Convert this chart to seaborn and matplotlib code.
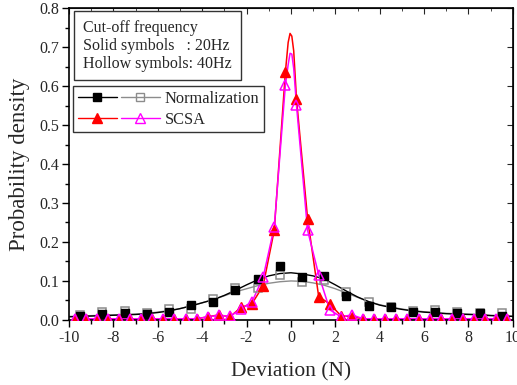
import numpy as np
import pandas as pd
import matplotlib
matplotlib.use("Agg")
import matplotlib.pyplot as plt
import seaborn as sns
from matplotlib.lines import Line2D
from matplotlib.legend_handler import HandlerTuple
from matplotlib.ticker import MultipleLocator, FormatStrFormatter

# ---------------- data ----------------
norm_x = [-9.5, -8.5, -7.5, -6.5, -5.5, -4.5, -3.5, -2.5, -1.5, -0.5,
          0.5, 1.5, 2.5, 3.5, 4.5, 5.5, 6.5, 7.5, 8.5, 9.5]
norm_20 = [0.010, 0.014, 0.019, 0.015, 0.021, 0.038, 0.045, 0.077, 0.105, 0.139,
           0.110, 0.112, 0.062, 0.037, 0.034, 0.020, 0.020, 0.019, 0.017, 0.010]
norm_40 = [0.013, 0.020, 0.023, 0.017, 0.027, 0.028, 0.054, 0.081, 0.081, 0.116,
           0.098, 0.103, 0.071, 0.045, 0.034, 0.024, 0.026, 0.020, 0.017, 0.017]

scsa_x = [-9.75, -9.25, -8.75, -8.25, -7.75, -7.25, -6.75, -6.25, -5.75, -5.25,
          -4.75, -4.25, -3.75, -3.25, -2.75, -2.25, -1.75, -1.25, -0.75, -0.25,
          0.25, 0.75, 1.25, 1.75, 2.25, 2.75, 3.25, 3.75, 4.25, 4.75,
          5.25, 5.75, 6.25, 6.75, 7.25, 7.75, 8.25, 8.75, 9.25, 9.75]
scsa_20 = [0.003, 0.003, 0.003, 0.003, 0.003, 0.003, 0.003, 0.003, 0.003, 0.003,
           0.003, 0.003, 0.008, 0.013, 0.008, 0.032, 0.042, 0.088, 0.231, 0.636,
           0.567, 0.260, 0.060, 0.041, 0.011, 0.008, 0.003, 0.003, 0.003, 0.003,
           0.003, 0.003, 0.003, 0.003, 0.003, 0.003, 0.003, 0.003, 0.003, 0.003]
scsa_40 = [0.003, 0.003, 0.003, 0.003, 0.003, 0.003, 0.003, 0.003, 0.003, 0.003,
           0.003, 0.003, 0.008, 0.012, 0.009, 0.028, 0.047, 0.110, 0.239, 0.603,
           0.551, 0.230, 0.116, 0.026, 0.008, 0.013, 0.003, 0.003, 0.003, 0.003,
           0.003, 0.003, 0.003, 0.003, 0.003, 0.003, 0.003, 0.003, 0.003, 0.003]

# smooth curves drawn through / near the data
curve_x = [-10, -9.5, -9, -8.5, -8, -7.5, -7, -6.5, -6, -5.5, -5, -4.5, -4, -3.5,
           -3, -2.5, -2, -1.5, -1, -0.5, 0, 0.5, 1, 1.5, 2, 2.5, 3, 3.5, 4, 4.5,
           5, 5.5, 6, 6.5, 7, 7.5, 8, 8.5, 9, 9.5, 10]
curve_20 = [0.008, 0.009, 0.010, 0.011, 0.012, 0.013, 0.014, 0.016, 0.019, 0.023,
            0.029, 0.036, 0.044, 0.052, 0.063, 0.076, 0.090, 0.103, 0.113, 0.119,
            0.121, 0.118, 0.113, 0.105, 0.090, 0.074, 0.059, 0.047, 0.038, 0.032,
            0.027, 0.023, 0.020, 0.018, 0.016, 0.015, 0.014, 0.013, 0.011, 0.010, 0.009]
curve_40 = [0.009, 0.010, 0.011, 0.012, 0.013, 0.014, 0.015, 0.017, 0.020, 0.024,
            0.029, 0.036, 0.044, 0.052, 0.062, 0.072, 0.080, 0.088, 0.094, 0.098,
            0.100, 0.099, 0.095, 0.089, 0.080, 0.069, 0.058, 0.047, 0.039, 0.033,
            0.028, 0.024, 0.021, 0.019, 0.017, 0.016, 0.015, 0.014, 0.012, 0.011, 0.010]

# extra points on the SCSA curves around the peak
peak_x = [-0.125, -0.04, 0.04, 0.125]
peak_20 = [0.712, 0.735, 0.728, 0.690]
peak_40 = [0.655, 0.684, 0.682, 0.645]

xticks = [-10, -8, -6, -4, -2, 0, 2, 4, 6, 8, 10]
yticks = [0.0, 0.1, 0.2, 0.3, 0.4, 0.5, 0.6, 0.7, 0.8]

# ---------------- styling ----------------
sns.set_style("ticks")
plt.rcParams["font.family"] = ["Liberation Serif", "DejaVu Serif"]
plt.rcParams["axes.unicode_minus"] = False

BLACK = "#000000"
GRAY = "#8c8c8c"
RED = "#ff0000"
MAG = "#ff00ff"
SQ = 5.5
TR = 6.5

fig = plt.figure(figsize=(5.17, 3.85), dpi=100)
ax = fig.add_axes([0.1335, 0.169, 0.8585, 0.810])

df_curve = pd.DataFrame({"x": curve_x, "n20": curve_20, "n40": curve_40})
df_norm = pd.DataFrame({"x": norm_x, "n20": norm_20, "n40": norm_40})
sl20 = pd.DataFrame({"x": scsa_x + peak_x, "y": scsa_20 + peak_20}).sort_values("x")
sl40 = pd.DataFrame({"x": scsa_x + peak_x, "y": scsa_40 + peak_40}).sort_values("x")
df_scsa = pd.DataFrame({"x": scsa_x, "s20": scsa_20, "s40": scsa_40})

# normalization curves
sns.lineplot(data=df_curve, x="x", y="n40", color=GRAY, lw=1.0, estimator=None, ax=ax)
sns.lineplot(data=df_curve, x="x", y="n20", color=BLACK, lw=1.0, estimator=None, ax=ax)
ax.plot(df_norm["x"], df_norm["n40"], ls="none", marker="s", ms=SQ,
        mfc="none", mec=GRAY, mew=1.1, zorder=3)
ax.plot(df_norm["x"], df_norm["n20"], ls="none", marker="s", ms=SQ,
        mfc=BLACK, mec=BLACK, zorder=3)

# SCSA lines + markers
sns.lineplot(data=sl20, x="x", y="y", color=RED, lw=1.1, estimator=None, sort=False, ax=ax)
sns.lineplot(data=sl40, x="x", y="y", color=MAG, lw=1.1, estimator=None, sort=False, ax=ax)
ax.plot(df_scsa["x"], df_scsa["s20"], ls="none", marker="^", ms=TR,
        mfc=RED, mec=RED, zorder=4)
ax.plot(df_scsa["x"], df_scsa["s40"], ls="none", marker="^", ms=TR,
        mfc="none", mec=MAG, mew=1.1, zorder=5)

ax.set_xlim(-10, 10)
ax.set_ylim(0, 0.8)
ax.set_xticks(xticks)
ax.set_yticks(yticks)
ax.yaxis.set_major_formatter(FormatStrFormatter("%.1f"))
ax.xaxis.set_minor_locator(MultipleLocator(1))
ax.yaxis.set_minor_locator(MultipleLocator(0.05))
ax.tick_params(which="major", direction="out", length=5, width=1, labelsize=11.5,
               color="black", pad=2)
ax.tick_params(which="minor", direction="out", length=3, width=1, color="black")
for sp in ax.spines.values():
    sp.set_visible(True)
    sp.set_linewidth(1.2)
    sp.set_color("black")

# inward ticks on top / right
top = ax.secondary_xaxis("top")
top.set_xticks(xticks)
top.xaxis.set_minor_locator(MultipleLocator(1))
top.tick_params(which="major", direction="in", length=4, labeltop=False)
top.tick_params(which="minor", direction="in", length=2.5)
right = ax.secondary_yaxis("right")
right.set_yticks(yticks)
right.yaxis.set_minor_locator(MultipleLocator(0.05))
right.tick_params(which="major", direction="in", length=4, labelright=False)
right.tick_params(which="minor", direction="in", length=2.5)

ax.set_xlabel("Deviation (N)", fontsize=15.5)
ax.set_ylabel("Probability density", fontsize=16.5)
ax.xaxis.set_label_coords(0.5, -0.135)
ax.yaxis.set_label_coords(-0.088, 0.5)

# info box
ax.text(0.0315, 0.962, "Cut-off frequency\nSolid symbols   : 20Hz\nHollow symbols: 40Hz",
        transform=ax.transAxes, ha="left", va="top", fontsize=11.5, linespacing=1.15,
        bbox=dict(boxstyle="square,pad=0.55", fc="white", ec="#333333", lw=1.0),
        zorder=10)

# legend
h_n20 = Line2D([], [], color=BLACK, lw=1.0, marker="s", ms=SQ, mfc=BLACK, mec=BLACK)
h_n40 = Line2D([], [], color=GRAY, lw=1.0, marker="s", ms=SQ, mfc="none", mec=GRAY)
h_s20 = Line2D([], [], color=RED, lw=1.0, marker="^", ms=TR, mfc=RED, mec=RED)
h_s40 = Line2D([], [], color=MAG, lw=1.0, marker="^", ms=TR, mfc="none", mec=MAG)
leg = ax.legend([(h_n20, h_n40), (h_s20, h_s40)], ["Normalization", "SCSA"],
                handler_map={tuple: HandlerTuple(ndivide=None, pad=0.25)},
                loc="upper left", bbox_to_anchor=(0.009, 0.75), borderaxespad=0,
                fontsize=11.75, handlelength=5.0, handletextpad=0.3, borderpad=0.3,
                labelspacing=0.28, numpoints=1, fancybox=False, framealpha=1,
                edgecolor="#333333")
leg.get_frame().set_linewidth(1.0)
leg.set_zorder(10)

fig.savefig("out.png", dpi=100)
